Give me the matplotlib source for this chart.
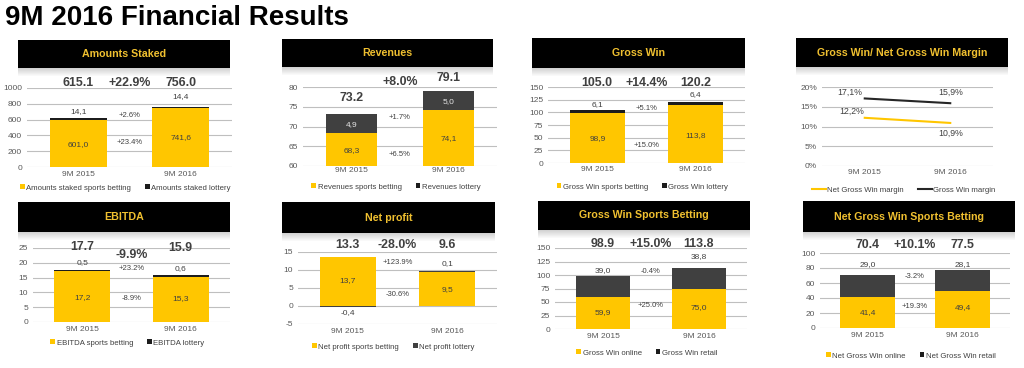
import matplotlib
matplotlib.use("Agg")
import matplotlib.pyplot as plt
from matplotlib.patches import Rectangle, Patch
from matplotlib.lines import Line2D

plt.rcParams["font.family"] = ["Liberation Sans", "DejaVu Sans"]
plt.rcParams["axes.unicode_minus"] = False

W, H = 1024, 368

# ---- palette ----
YEL  = "#FFC600"
DARK = "#404040"
BLK  = "#1C1C1C"
INK  = "#404040"
TICK = "#595959"
GRID = "#BFBFBF"
HDR  = "#F0C030"

# ---- data ----
CATS = ["9M 2015", "9M 2016"]

staked_sports  = [601.0, 741.6]
staked_lottery = [14.1, 14.4]
staked_total   = ["615.1", "756.0"]
staked_growth  = ["+22.9%", "+2.6%", "+23.4%"]

rev_sports  = [68.3, 74.1]
rev_lottery = [4.9, 5.0]
rev_total   = ["73.2", "79.1"]
rev_growth  = ["+8.0%", "+1.7%", "+6.5%"]

gw_sports  = [98.9, 113.8]
gw_lottery = [6.1, 6.4]
gw_total   = ["105.0", "120.2"]
gw_growth  = ["+14.4%", "+5.1%", "+15.0%"]

gw_margin     = [17.1, 15.9]
net_gw_margin = [12.2, 10.9]

ebitda_sports  = [17.2, 15.3]
ebitda_lottery = [0.5, 0.6]
ebitda_total   = ["17.7", "15.9"]
ebitda_growth  = ["-9.9%", "+23.2%", "-8.9%"]

np_sports  = [13.7, 9.5]
np_lottery = [-0.4, 0.1]
np_total   = ["13.3", "9.6"]
np_growth  = ["-28.0%", "+123.9%", "-30.6%"]

gwsb_online = [59.9, 75.0]
gwsb_retail = [39.0, 38.8]
gwsb_total  = ["98.9", "113.8"]
gwsb_growth = ["+15.0%", "-0.4%", "+25.0%"]

ngw_online = [41.4, 49.4]
ngw_retail = [29.0, 28.1]
ngw_total  = ["70.4", "77.5"]
ngw_growth = ["+10.1%", "-3.2%", "+19.3%"]

TOT_FS = 8.9   # big totals / growth
LAB_FS = 6.0   # labels on bars
PCT_FS = 5.5   # small growth labels between bars
TICK_FS = 6.0
LEG_FS = 5.6
HDR_FS = 7.7

fig = plt.figure(figsize=(W / 100, H / 100), dpi=100)
fig.patch.set_facecolor("white")

fig.text(5 / W, 1 - 18 / H, "9M 2016 Financial Results", fontsize=20,
         fontweight="bold", color="black", va="center", ha="left")


def fx(x): return x / W
def fy(y): return 1 - y / H


def fax(x0, y0, x1, y1):
    return fig.add_axes([fx(x0), fy(y1), (x1 - x0) / W, (y1 - y0) / H])


def header(x0, y0, x1, y1, title):
    # soft grey shadow under the black band
    for i in range(8):
        fig.patches.append(Rectangle((fx(x0), fy(y1 + i + 1)), (x1 - x0) / W, 1 / H,
                                     transform=fig.transFigure, fc="#808080",
                                     alpha=0.35 * (1 - i / 8), ec="none"))
    fig.patches.append(Rectangle((fx(x0), fy(y1)), (x1 - x0) / W, (y1 - y0) / H,
                                 transform=fig.transFigure, fc="black", ec="none"))
    fig.text(fx((x0 + x1) / 2), fy((y0 + y1) / 2), title, ha="center", va="center",
             color=HDR, fontsize=HDR_FS, fontweight="bold")


def style(ax, ylim, ticks, labels=None, catpad=3):
    ax.set_xlim(-0.5, 1.5)
    ax.set_ylim(*ylim)
    ax.set_yticks(ticks)
    if labels is not None:
        ax.set_yticklabels(labels)
    ax.set_xticks([0, 1])
    ax.set_xticklabels(CATS)
    for s in ax.spines.values():
        s.set_visible(False)
    ax.tick_params(length=0, labelsize=TICK_FS, labelcolor=TICK, pad=catpad)
    ax.tick_params(axis="y", pad=3.5)
    ax.grid(axis="y", color=GRID, lw=0.8)
    ax.set_axisbelow(True)
    ax.patch.set_alpha(0)


def legend(ax, labels, colors, ypx, lines=False):
    if lines:
        h = [Line2D([], [], color=c, lw=1.5) for c in colors]
        kw = dict(handlelength=1.8)
    else:
        h = [Patch(fc=c, ec="none") for c in colors]
        kw = dict(handlelength=0.6, handleheight=0.6)
    bb = ax.get_position()
    fig.legend(h, labels, loc="center", ncol=2, frameon=False, fontsize=LEG_FS,
               bbox_to_anchor=((bb.x0 + bb.x1) / 2 - 4 / W, fy(ypx)), handletextpad=0.2,
               columnspacing=1.8, labelcolor=INK, **kw)


def txt(ax, x, y, s, color=INK, fs=LAB_FS, bold=False):
    ax.text(x, y, s, ha="center", va="center", color=color, fontsize=fs,
            fontweight="bold" if bold else "normal", clip_on=False)


def dec(v):
    return f"{v:.1f}".replace(".", ",")


def stacked(ax, low, high, hcol, width=0.56):
    x = [0, 1]
    ax.bar(x, low, width=width, color=YEL, zorder=2)
    ax.bar(x, high, bottom=low, width=width, color=hcol, zorder=2)


def totals(ax, tot, growth, yt, yg=None):
    if yg is None:
        yg = yt[0]
    txt(ax, 0, yt[0], tot[0], fs=TOT_FS, bold=True)
    txt(ax, 1, yt[1], tot[1], fs=TOT_FS, bold=True)
    txt(ax, 0.5, yg, growth[0], fs=TOT_FS, bold=True)


# ---- 1: Amounts Staked ----
header(18, 40, 230, 68, "Amounts Staked")
ax = fax(27, 88, 232, 167)
style(ax, (0, 1000), range(0, 1001, 200))
stacked(ax, staked_sports, staked_lottery, BLK)
totals(ax, staked_total, staked_growth, (1063, 1063))
txt(ax, 0, 696, dec(staked_lottery[0])); txt(ax, 1, 886, dec(staked_lottery[1]))
txt(ax, 0.5, 658, staked_growth[1], fs=PCT_FS); txt(ax, 0.5, 304, staked_growth[2], fs=PCT_FS)
txt(ax, 0, 278, dec(staked_sports[0])); txt(ax, 1, 367, dec(staked_sports[1]))
legend(ax, ["Amounts staked sports betting", "Amounts staked lottery"], [YEL, BLK], 188)

# ---- 2: Revenues ----
header(282, 39, 493, 67, "Revenues")
ax = fax(303, 87, 497, 166)
style(ax, (60, 80), range(60, 81, 5), catpad=1)
stacked(ax, rev_sports, rev_lottery, DARK, width=0.52)
txt(ax, 0, 77.2, rev_total[0], fs=TOT_FS, bold=True)
txt(ax, 1, 82.3, rev_total[1], fs=TOT_FS, bold=True)
txt(ax, 0.5, 81.3, rev_growth[0], fs=TOT_FS, bold=True)
txt(ax, 0, 70.4, dec(rev_lottery[0]), color="#E6E6E6"); txt(ax, 1, 76.2, dec(rev_lottery[1]), color="#E6E6E6")
txt(ax, 0.5, 72.2, rev_growth[1], fs=PCT_FS); txt(ax, 0.5, 63.0, rev_growth[2], fs=PCT_FS)
txt(ax, 0, 64.0, dec(rev_sports[0])); txt(ax, 1, 67.0, dec(rev_sports[1]))
legend(ax, ["Revenues sports betting", "Revenues lottery"], [YEL, BLK], 187)

# ---- 3: Gross Win ----
header(532, 38, 745, 68, "Gross Win")
ax = fax(548, 87, 745, 163)
style(ax, (0, 150), range(0, 151, 25), catpad=2)
stacked(ax, gw_sports, gw_lottery, BLK)
totals(ax, gw_total, gw_growth, (158, 158))
txt(ax, 0, 114.5, dec(gw_lottery[0])); txt(ax, 1, 136, dec(gw_lottery[1]))
txt(ax, 0.5, 108.5, gw_growth[1], fs=PCT_FS); txt(ax, 0.5, 35.5, gw_growth[2], fs=PCT_FS)
txt(ax, 0, 49, dec(gw_sports[0])); txt(ax, 1, 55, dec(gw_sports[1]))
legend(ax, ["Gross Win sports betting", "Gross Win lottery"], [YEL, BLK], 187)

# ---- 4: Margins ----
header(796, 38, 1008, 67, "Gross Win/ Net Gross Win Margin")
ax = fax(822, 87, 993, 166)
style(ax, (0, 20), range(0, 21, 5), [f"{t}%" for t in range(0, 21, 5)], catpad=2)
ax.plot([0, 1], net_gw_margin, color=YEL, lw=1.5, zorder=3)
ax.plot([0, 1], gw_margin, color="#262626", lw=1.5, zorder=3)
txt(ax, -0.17, 18.7, dec(gw_margin[0]) + "%", fs=6.3); txt(ax, 1.0, 18.7, dec(gw_margin[1]) + "%", fs=6.3)
txt(ax, -0.15, 13.9, dec(net_gw_margin[0]) + "%", fs=6.3); txt(ax, 1.0, 8.4, dec(net_gw_margin[1]) + "%", fs=6.3)
legend(ax, ["Net Gross Win margin", "Gross Win margin"], [YEL, "#262626"], 190, lines=True)

# ---- 5: EBITDA ----
header(18, 202, 230, 232, "EBITDA")
ax = fax(33, 248, 230, 322)
style(ax, (0, 25), range(0, 26, 5), catpad=3)
stacked(ax, ebitda_sports, ebitda_lottery, BLK, width=0.57)
txt(ax, 0, 25.3, ebitda_total[0], fs=TOT_FS, bold=True)
txt(ax, 1, 25.0, ebitda_total[1], fs=TOT_FS, bold=True)
txt(ax, 0.5, 22.6, ebitda_growth[0], fs=TOT_FS, bold=True)
txt(ax, 0, 20.0, dec(ebitda_lottery[0])); txt(ax, 1, 17.9, dec(ebitda_lottery[1]))
txt(ax, 0.5, 18.2, ebitda_growth[1], fs=PCT_FS); txt(ax, 0.5, 7.8, ebitda_growth[2], fs=PCT_FS)
txt(ax, 0, 8.4, dec(ebitda_sports[0])); txt(ax, 1, 7.8, dec(ebitda_sports[1]))
legend(ax, ["EBITDA sports betting", "EBITDA lottery"], [YEL, BLK], 343)

# ---- 6: Net profit ----
header(282, 202, 495, 233, "Net profit")
ax = fax(298, 252, 497, 324)
style(ax, (-5, 15), range(-5, 16, 5), catpad=3)
ax.bar([0, 1], np_sports, width=0.56, color=YEL, zorder=2)
ax.bar([0, 1], np_lottery, bottom=[0, np_sports[1]], width=0.56, color=DARK, zorder=2)
totals(ax, np_total, np_growth, (16.9, 16.9))
txt(ax, 0.5, 12.0, np_growth[1], fs=PCT_FS); txt(ax, 1, 11.7, dec(np_lottery[1]))
txt(ax, 0.5, 3.3, np_growth[2], fs=PCT_FS)
txt(ax, 0, 7.0, dec(np_sports[0])); txt(ax, 1, 4.7, dec(np_sports[1]))
txt(ax, 0, -1.9, dec(np_lottery[0]))
legend(ax, ["Net profit sports betting", "Net profit lottery"], [YEL, DARK], 347)

# ---- 7: Gross Win Sports Betting ----
header(538, 201, 750, 230, "Gross Win Sports Betting")
ax = fax(555, 248, 747, 329)
style(ax, (0, 150), range(0, 151, 25), catpad=3)
stacked(ax, gwsb_online, gwsb_retail, DARK)
totals(ax, gwsb_total, gwsb_growth, (157, 157))
txt(ax, 0, 109, dec(gwsb_retail[0])); txt(ax, 1, 135, dec(gwsb_retail[1]))
txt(ax, 0.5, 107, gwsb_growth[1], fs=PCT_FS); txt(ax, 0.5, 44, gwsb_growth[2], fs=PCT_FS)
txt(ax, 0, 30, dec(gwsb_online[0])); txt(ax, 1, 39, dec(gwsb_online[1]))
legend(ax, ["Gross Win online", "Gross Win retail"], [YEL, BLK], 353)

# ---- 8: Net Gross Win Sports Betting ----
header(803, 201, 1015, 232, "Net Gross Win Sports Betting")
ax = fax(820, 253, 1010, 328)
style(ax, (0, 100), range(0, 101, 20), catpad=3)
stacked(ax, ngw_online, ngw_retail, DARK, width=0.57)
totals(ax, ngw_total, ngw_growth, (111, 111))
txt(ax, 0, 84, dec(ngw_retail[0])); txt(ax, 1, 85, dec(ngw_retail[1]))
txt(ax, 0.5, 68, ngw_growth[1], fs=PCT_FS); txt(ax, 0.5, 29, ngw_growth[2], fs=PCT_FS)
txt(ax, 0, 20, dec(ngw_online[0])); txt(ax, 1, 27, dec(ngw_online[1]))
legend(ax, ["Net Gross Win online", "Net Gross Win retail"], [YEL, BLK], 356)

fig.savefig("out.png", dpi=100, facecolor="white")
